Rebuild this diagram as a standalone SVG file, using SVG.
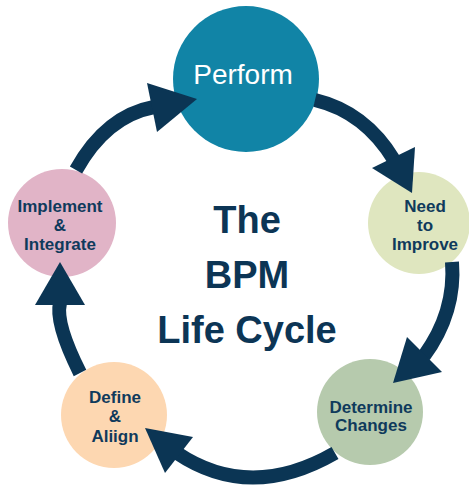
<svg xmlns="http://www.w3.org/2000/svg" width="469" height="487" viewBox="0 0 469 487">
  <style>
    .lbl { font-family: "Liberation Sans", Arial, sans-serif; font-weight: bold; font-size: 17px; fill: #0f3a5c; text-anchor: middle; }
    .title { font-family: "Liberation Sans", Arial, sans-serif; font-weight: bold; font-size: 38px; fill: #0c3555; text-anchor: middle; }
    .main { font-family: "Liberation Sans", Arial, sans-serif; font-size: 28px; fill: #ffffff; text-anchor: middle; }
    .shaft { fill: none; stroke: #0b3554; stroke-width: 14; }
    .head { fill: #0b3554; }
  </style>
  <rect width="469" height="487" fill="#ffffff"/>

  <!-- centre title -->
  <g id="title">
    <text class="title" x="247" y="233">The</text>
    <text class="title" x="247" y="288">BPM</text>
    <text class="title" x="247" y="343">Life Cycle</text>
  </g>

  <!-- stage nodes -->
  <g id="perform">
    <circle cx="246" cy="79" r="73" fill="#1184a6"/>
    <text class="main" x="243" y="84">Perform</text>
  </g>
  <g id="need-to-improve">
    <circle cx="419" cy="223" r="51" fill="#dfe6bf"/>
    <text class="lbl" x="425" y="212">Need</text>
    <text class="lbl" x="425" y="231">to</text>
    <text class="lbl" x="425" y="250">Improve</text>
  </g>
  <g id="determine-changes">
    <circle cx="370" cy="412" r="53" fill="#b6caad"/>
    <text class="lbl" x="371" y="413">Determine</text>
    <text class="lbl" x="371" y="431">Changes</text>
  </g>
  <g id="define-align">
    <circle cx="114" cy="415" r="53" fill="#fdd7b1"/>
    <text class="lbl" x="115" y="403">Define</text>
    <text class="lbl" x="115" y="422">&amp;</text>
    <text class="lbl" x="115" y="442">Aliign</text>
  </g>
  <g id="implement-integrate">
    <circle cx="62" cy="223" r="54" fill="#e1b4c7"/>
    <text class="lbl" x="60" y="212">Implement</text>
    <text class="lbl" x="60" y="231">&amp;</text>
    <text class="lbl" x="60" y="250">Integrate</text>
  </g>

  <!-- cycle arrows -->
  <g id="connectors">
    <path class="shaft" d="M 76 170 Q 106 116 154 107"/>
    <polygon class="head" points="147,83 157,132 197,99"/>

    <path class="shaft" d="M 315 100 Q 365 112 394 160"/>
    <polygon class="head" points="372,168 415,147 412,193"/>

    <path class="shaft" d="M 452 262 Q 456 312 424 356"/>
    <polygon class="head" points="407,337 442,372 393,383"/>

    <path class="shaft" d="M 335 453 Q 250 502 177 453"/>
    <polygon class="head" points="193,437 165,473 145,428"/>

    <path class="shaft" d="M 80 373 Q 55 323 60 303"/>
    <polygon class="head" points="35,305 85,305 60,262"/>
  </g>
</svg>
